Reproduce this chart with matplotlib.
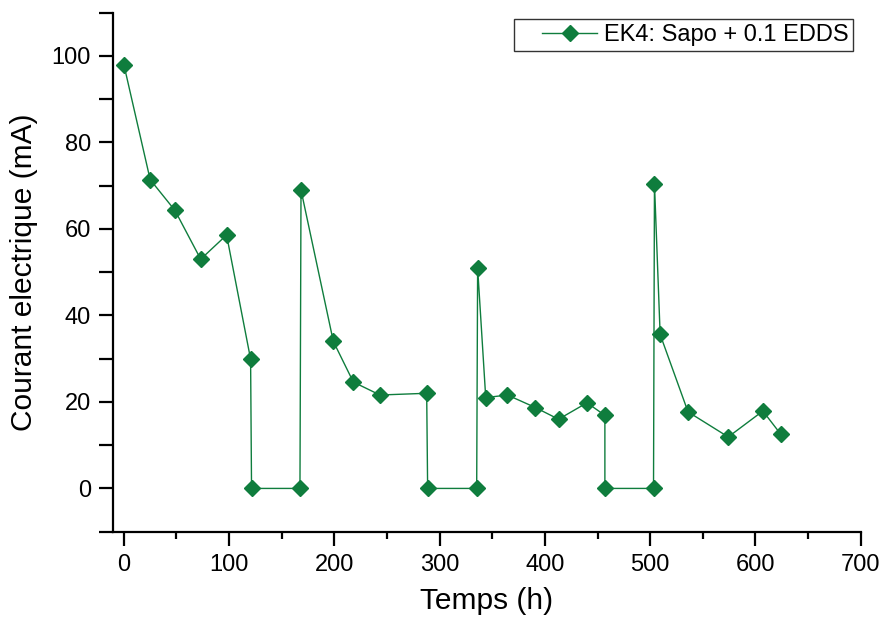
import numpy as np
import matplotlib.pyplot as plt
from matplotlib.ticker import MultipleLocator
from matplotlib.lines import Line2D
from matplotlib.legend_handler import HandlerLine2D

plt.rcParams['font.family'] = ['Liberation Sans', 'DejaVu Sans']

# time (h) and current (mA)
temps = [0, 25, 48.5, 73, 97.6, 120.4, 121.3, 167.3, 168.3, 199, 218, 243.3,
         287.7, 288.6, 335.2, 336.1, 343.8, 364.4, 391, 413, 440, 457, 457,
         503.2, 504.1, 509.5, 536, 574.2, 607.1, 624.2]
courant = [98.0, 71.4, 64.3, 53.0, 58.6, 29.9, 0, 0, 69.0, 34.0, 24.6, 21.6,
           22.0, 0, 0, 51.0, 21.0, 21.6, 18.7, 16.0, 19.8, 16.9, 0,
           0, 70.5, 35.6, 17.7, 11.9, 17.9, 12.5]
label = "EK4: Sapo + 0.1 EDDS"

green = '#0f7d3d'

fig = plt.figure(figsize=(8.82, 6.17), dpi=100)
ax = fig.add_axes([0.1285, 0.1383, 0.9758 - 0.1285, 0.9794 - 0.1383])

ax.plot(temps, courant, color=green, lw=1.0, marker='D', ms=8.5,
        mfc=green, mec=green, label=label)

ax.set_xlim(-10, 700)
ax.set_ylim(-10, 110)
ax.xaxis.set_major_locator(MultipleLocator(100))
ax.xaxis.set_minor_locator(MultipleLocator(50))
ax.yaxis.set_major_locator(MultipleLocator(20))
ax.yaxis.set_minor_locator(MultipleLocator(10))

ax.spines['top'].set_visible(False)
ax.spines['right'].set_visible(False)
for s in ['left', 'bottom']:
    ax.spines[s].set_linewidth(1.6)

ax.tick_params(which='major', direction='out', length=10, width=1.6,
               labelsize=17, pad=6)
ax.tick_params(axis='x', which='minor', direction='out', length=5, width=1.6)
ax.tick_params(axis='y', which='minor', direction='out', length=10, width=1.6)

ax.set_xlabel("Temps (h)", fontsize=21.5, labelpad=8)
ax.set_ylabel("Courant electrique (mA)", fontsize=21.5, labelpad=10)

# handle box padded on the left so the frame leaves room before the line
leg = ax.legend(loc='upper right', bbox_to_anchor=(0.99, 0.987), fontsize=17,
                frameon=True, fancybox=False, edgecolor='black',
                handlelength=3.3, handletextpad=0.3, borderpad=0.2,
                borderaxespad=0,
                handler_map={Line2D: HandlerLine2D(xpad=1.0)})
leg.get_frame().set_linewidth(1.0)

fig.savefig("out.png", dpi=100)
